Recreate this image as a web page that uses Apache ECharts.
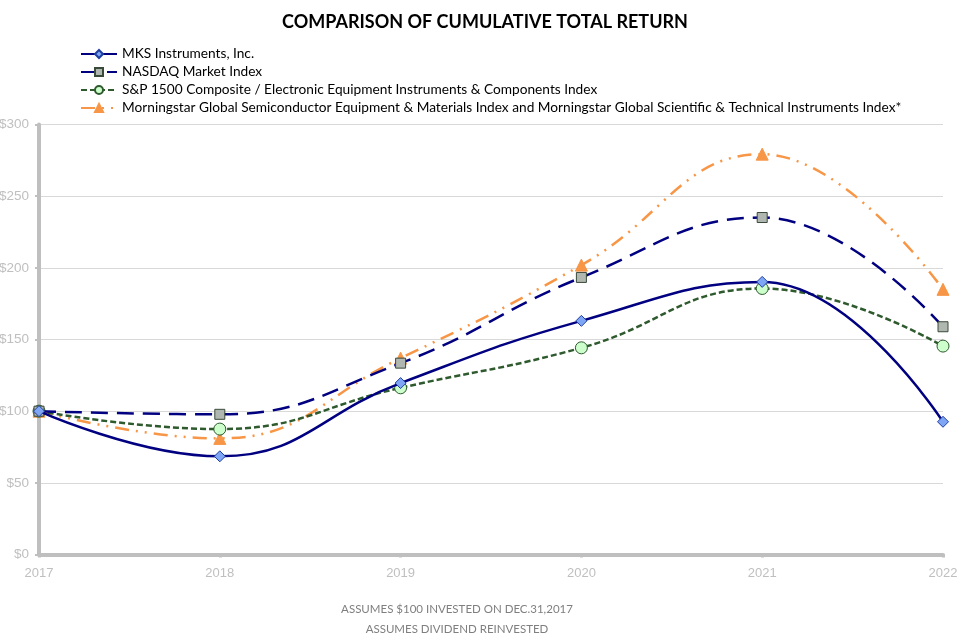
<!DOCTYPE html>
<html>
<head>
<meta charset="utf-8">
<script src="https://cdn.jsdelivr.net/npm/echarts@6/dist/echarts.min.js"></script>
<style>html,body{margin:0;padding:0;background:#fff}#c{width:970px;height:642px}</style>
</head>
<body>
<div id="c"></div>
<script>
const years = ['2017','2018','2019','2020','2021','2022'];
const mks = [100, 68.5, 119.6, 163.0, 190.2, 92.6];
const nasdaq = [100, 97.8, 133.5, 193.3, 235.1, 158.9];
const sp1500 = [100, 87.5, 116.3, 144.2, 185.6, 145.4];
const morningstar = [100, 81.0, 137.0, 201.9, 279.3, 185.0];
const names = [
  'MKS Instruments, Inc.',
  'NASDAQ Market Index',
  'S&P 1500 Composite / Electronic Equipment Instruments & Components Index',
  'Morningstar Global Semiconductor Equipment & Materials Index and Morningstar Global Scientific & Technical Instruments Index*'
];
const yTicks = [0, 50, 100, 150, 200, 250, 300];

const chart = echarts.init(document.getElementById('c'), null, {renderer: 'canvas'});
const FONT = 'Lato';
chart.setOption({
  animation: false,
  backgroundColor: '#fff',
  title: [
    {text: 'COMPARISON OF CUMULATIVE TOTAL RETURN', left: 'center', top: 8,
     textStyle: {fontFamily: FONT, fontWeight: 'bold', fontSize: 18, color: '#000'}},
    {text: 'ASSUMES $100 INVESTED ON DEC.31,2017\nASSUMES DIVIDEND REINVESTED', left: 452, top: 594, textAlign: 'center',
     textStyle: {fontFamily: FONT, fontWeight: 'normal', fontSize: 11.5, color: '#7f7f7f', lineHeight: 20, align: 'center'}}
  ],
  legend: {
    orient: 'vertical', left: 75, top: 42, itemWidth: 36, itemHeight: 10, itemGap: 4,
    textStyle: {fontFamily: FONT, fontSize: 13.7, color: '#000'},
    data: [
      {name: names[0]},
      {name: names[1]},
      {name: names[2], itemStyle: {color: '#ccffcc', borderColor: '#2e5a2e'}},
      {name: names[3]}
    ]
  },
  grid: {left: 39, right: 27, top: 124.5, bottom: 87.5, containLabel: false, outerBoundsMode: 'none'},
  xAxis: {
    type: 'category', data: years, boundaryGap: false,
    axisLine: {lineStyle: {color: '#bfbfbf', width: 4}},
    axisTick: {show: true, length: 3, lineStyle: {color: '#bfbfbf', width: 3}},
    axisLabel: {fontFamily: 'Liberation Sans', fontSize: 13, color: '#bfbfbf', margin: 12}
  },
  yAxis: {
    type: 'value', min: 0, max: 300, interval: 50,
    axisLine: {show: true, lineStyle: {color: '#bfbfbf', width: 4}},
    axisTick: {show: true, length: 4, lineStyle: {color: '#bfbfbf', width: 2}},
    splitLine: {lineStyle: {color: '#d9d9d9', width: 1}},
    axisLabel: {fontFamily: 'Liberation Sans', fontSize: 13.5, color: '#bfbfbf', margin: 10,
      formatter: v => '$' + v}
  },
  series: [
    {name: names[3], type: 'line', data: morningstar, smooth: 0.45, z: 2,
     lineStyle: {color: '#f79646', width: 2.5, type: [14, 7, 2, 7, 2, 7]},
     symbol: 'triangle', symbolSize: 12, itemStyle: {color: '#f79646', borderColor: '#f79646', borderWidth: 1}},
    {name: names[2], type: 'line', data: sp1500, smooth: 0.45, z: 3,
     lineStyle: {color: '#2e5a2e', width: 2.5, type: [6, 3]},
     symbol: 'circle', symbolSize: 12, itemStyle: {color: '#ccffcc', borderColor: '#2e5a2e', borderWidth: 1}},
    {name: names[1], type: 'line', data: nasdaq, smooth: 0.45, z: 4,
     lineStyle: {color: '#000080', width: 2.5, type: [17, 9]},
     symbol: 'rect', symbolSize: 10, itemStyle: {color: '#b0b7b0', borderColor: '#3a4a3a', borderWidth: 1}},
    {name: names[0], type: 'line', data: mks, smooth: 0.45, z: 5,
     lineStyle: {color: '#000080', width: 2.5},
     symbol: 'diamond', symbolSize: 11, itemStyle: {color: '#7fa6f5', borderColor: '#1f3fa0', borderWidth: 1}}
  ]
});
</script>
</body>
</html>
